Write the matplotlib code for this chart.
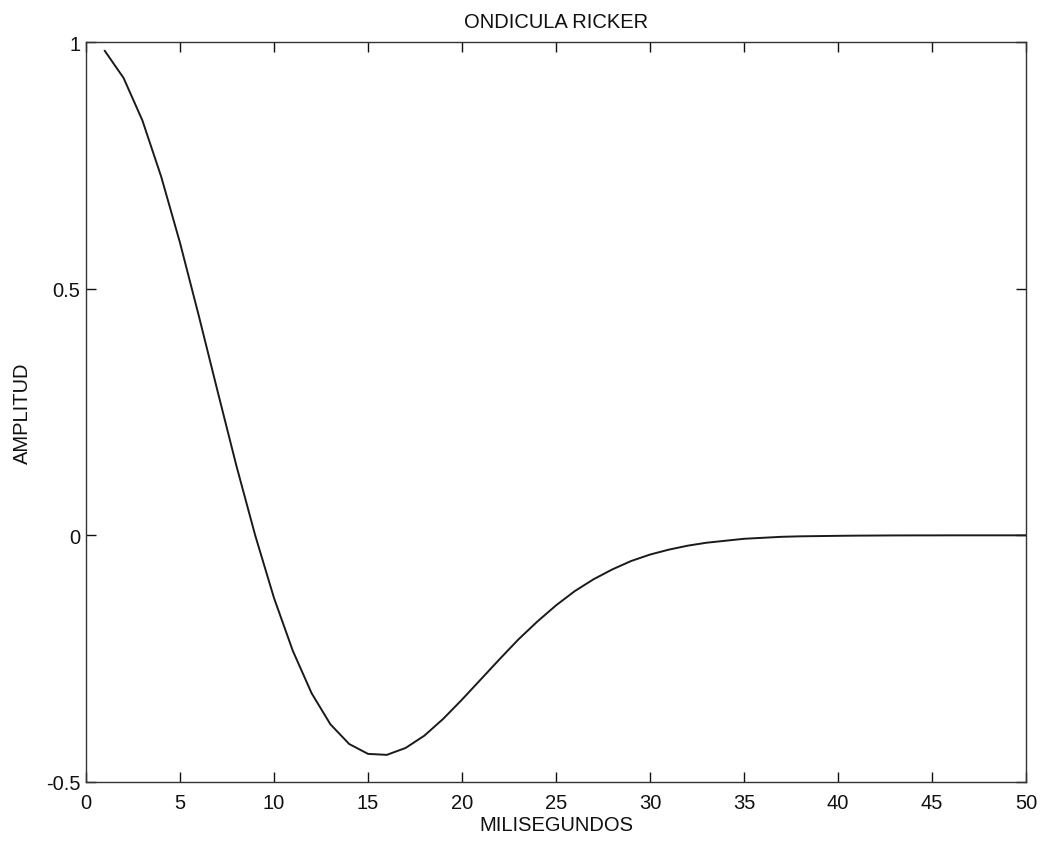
import matplotlib
matplotlib.use("Agg")
import matplotlib.pyplot as plt

plt.rcParams['font.family'] = ['Liberation Sans', 'DejaVu Sans']

# Ricker wavelet samples, one per millisecond
t_ms = list(range(1, 51))
amplitude = [
    0.982, 0.927, 0.841, 0.727, 0.593, 0.445, 0.292, 0.141, 0.000, -0.127,
    -0.234, -0.320, -0.383, -0.423, -0.443, -0.445, -0.431, -0.406, -0.372, -0.333,
    -0.292, -0.251, -0.211, -0.175, -0.142, -0.113, -0.089, -0.069, -0.052, -0.039,
    -0.029, -0.021, -0.015, -0.011, -0.007, -0.005, -0.003, -0.002, -0.0015, -0.001,
    -0.0006, -0.0004, -0.0002, -0.0001, -0.0001, 0.0, 0.0, 0.0, 0.0, 0.0,
]

x_ticks = [0, 5, 10, 15, 20, 25, 30, 35, 40, 45, 50]
y_ticks = [-0.5, 0, 0.5, 1]
y_tick_labels = ["-0.5", "0", "0.5", "1"]

fig = plt.figure(figsize=(10.43, 8.45), dpi=100)
ax = fig.add_axes([86 / 1043, 1 - 783 / 845, 940 / 1043, 740 / 845])

ax.plot(t_ms, amplitude, color="#1a1a1a", linewidth=1.4)

ax.set_xlim(0, 50)
ax.set_ylim(-0.5, 1)
ax.set_xticks(x_ticks)
ax.set_xticklabels([str(v) for v in x_ticks])
ax.set_yticks(y_ticks)
ax.set_yticklabels(y_tick_labels)

ax.tick_params(axis="both", direction="in", length=7, width=1.0,
               top=True, right=True, labelsize=14.5, colors="#111111")
ax.tick_params(axis="x", pad=8)
ax.tick_params(axis="y", pad=4)
for spine in ax.spines.values():
    spine.set_linewidth(1.0)
    spine.set_color("#333333")

ax.set_title("ONDICULA RICKER", fontsize=14.5, pad=11, color="#111111")
ax.set_xlabel("MILISEGUNDOS", fontsize=14.5, labelpad=2, color="#111111")
ax.set_ylabel("AMPLITUD", fontsize=14.5, labelpad=10, color="#111111")

fig.savefig("out.png", dpi=100, facecolor="white")
